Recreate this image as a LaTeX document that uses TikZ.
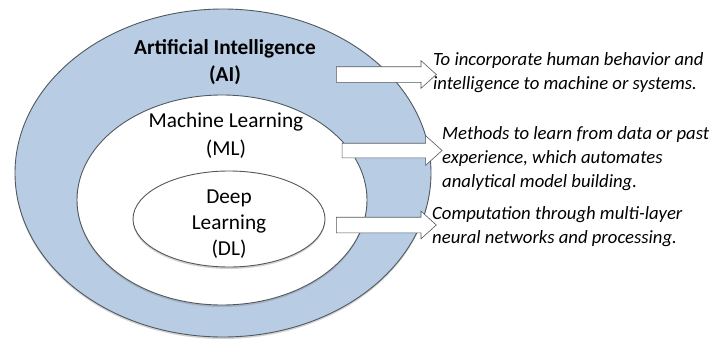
\documentclass[tikz,border=0pt]{standalone}
\usepackage{fontspec}
\setmainfont{Carlito}
\usetikzlibrary{shapes.geometric,shapes.arrows,shadows}
\definecolor{aiblue}{HTML}{B8CCE4}
\definecolor{edgegray}{HTML}{505860}
\tikzset{
  ring/.style={ellipse, draw=edgegray, line width=0.9pt, inner sep=0pt,
    drop shadow={opacity=0.35, shadow xshift=0pt, shadow yshift=-2pt}},
  blockarrow/.style={single arrow, draw=edgegray, line width=0.6pt, fill=white,
    inner xsep=0pt, inner ysep=7.5pt, minimum height=100pt, minimum width=15pt,
    single arrow head extend=6pt, single arrow tip angle=84, single arrow head indent=0pt},
  circlabel/.style={align=center, inner sep=0pt},
  desc/.style={anchor=west, align=left, inner sep=0pt, font=\fontsize{18.7}{24}\selectfont\itshape},
}
\begin{document}
\begin{tikzpicture}[x=1pt,y=-1pt]
\useasboundingbox (0,0) rectangle (710,340);
\node[ring, fill=aiblue, minimum width=416pt, minimum height=328pt] (ai) at (223,173) {};
\node[ring, fill=white, minimum width=290pt, minimum height=210pt] (ml) at (222,200) {};
\node[ring, fill=white, minimum width=192pt, minimum height=96pt] (dl) at (229,219) {};

\node[circlabel, font=\fontsize{21.3}{27}\selectfont\bfseries] (ailab) at (225,62) {Artificial Intelligence\\(AI)};
\node[circlabel, font=\fontsize{21.3}{28}\selectfont] (mllab) at (226,136) {Machine Learning\\(ML)};
\node[circlabel, font=\fontsize{21.3}{26}\selectfont] (dllab) at (229,224) {Deep\\Learning\\(DL)};

\node[blockarrow] (a1) at (382,74.5) {};
\node[blockarrow, inner ysep=7pt, single arrow head extend=7.5pt] (a2) at (388,150.5) {};
\node[blockarrow] (a3) at (382,225) {};

\node[desc] (t1) at (433,73) {To incorporate human behavior and\\intelligence to machine or systems.};
\node[desc] (t2) at (442,159) {Methods to learn from data or past\\experience, which automates\\analytical model building.};
\node[desc] (t3) at (432,227) {Computation through multi-layer\\neural networks and processing.};
\end{tikzpicture}
\end{document}
